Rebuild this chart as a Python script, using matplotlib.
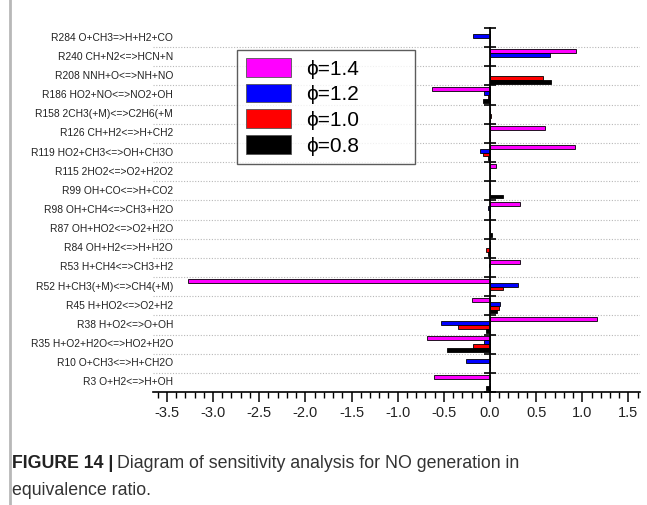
import numpy as np
import matplotlib.pyplot as plt
from matplotlib.lines import Line2D

plt.rcParams['font.family'] = ['Liberation Sans', 'DejaVu Sans']

reactions = [
    "R284 O+CH3=>H+H2+CO",
    "R240 CH+N2<=>HCN+N",
    "R208 NNH+O<=>NH+NO",
    "R186 HO2+NO<=>NO2+OH",
    "R158 2CH3(+M)<=>C2H6(+M",
    "R126 CH+H2<=>H+CH2",
    "R119 HO2+CH3<=>OH+CH3O",
    "R115 2HO2<=>O2+H2O2",
    "R99 OH+CO<=>H+CO2",
    "R98 OH+CH4<=>CH3+H2O",
    "R87 OH+HO2<=>O2+H2O",
    "R84 OH+H2<=>H+H2O",
    "R53 H+CH4<=>CH3+H2",
    "R52 H+CH3(+M)<=>CH4(+M)",
    "R45 H+HO2<=>O2+H2",
    "R38 H+O2<=>O+OH",
    "R35 H+O2+H2O<=>HO2+H2O",
    "R10 O+CH3<=>H+CH2O",
    "R3 O+H2<=>H+OH",
]

# sensitivity coefficients, same order as reactions
phi_14 = [0.0, 0.93, 0.0, -0.63, 0.0, 0.60, 0.92, 0.07, 0.0, 0.32,
          0.0, 0.0, 0.32, -3.27, -0.19, 1.16, -0.68, 0.0, -0.61]
phi_12 = [-0.18, 0.65, 0.0, -0.07, 0.0, 0.0, -0.11, 0.0, 0.0, -0.02,
          0.0, 0.0, -0.01, 0.30, 0.11, -0.53, -0.06, -0.26, 0.0]
phi_10 = [0.0, 0.0, 0.57, -0.02, 0.01, 0.0, -0.08, 0.0, 0.0, 0.0,
          0.0, -0.04, 0.0, 0.14, 0.10, -0.35, -0.18, 0.0, 0.0]
phi_08 = [0.0, 0.0, 0.66, -0.08, 0.0, 0.0, -0.02, 0.0, 0.14, 0.0,
          0.02, -0.02, 0.0, 0.0, 0.08, -0.04, -0.47, 0.0, -0.04]

series = [phi_14, phi_12, phi_10, phi_08]
labels = ["\u03d5=1.4", "\u03d5=1.2", "\u03d5=1.0", "\u03d5=0.8"]
colors = ["#ff00ff", "#0000ff", "#ff0000", "#000000"]

fig = plt.figure(figsize=(6.47, 5.05), dpi=100)
ax = fig.add_axes([0.2365, 0.2238, 0.752, 0.7208])

n = len(reactions)
y = np.arange(n)
h = 0.2
offsets = [-1.5 * h, -0.5 * h, 0.5 * h, 1.5 * h]
for vals, lab, col, off in zip(series, labels, colors, offsets):
    ax.barh(y + off, vals, height=h, color=col, edgecolor="black",
            linewidth=0.6, label=lab, zorder=3)

ax.set_xlim(-3.65, 1.62)
ax.set_ylim(n - 0.5, -0.5)

# dotted separators between reactions
bounds = np.arange(n - 1) + 0.5
ax.hlines(bounds, -3.65, 1.62, colors="#b8b8b8", linestyles=(0, (1, 1.5)),
          linewidth=0.8, zorder=1)

# spines
ax.spines['top'].set_visible(False)
ax.spines['right'].set_visible(False)
ax.spines['left'].set_position(('data', 0))
ax.spines['left'].set_linewidth(1.3)
ax.spines['left'].set_zorder(4)
ax.spines['bottom'].set_linewidth(1.2)

ax.set_yticks(np.arange(n + 1) - 0.5)
ax.set_yticklabels([])
ax.tick_params(axis='y', direction='inout', length=8, width=1.2)

ax.set_xticks(np.arange(-3.5, 1.51, 0.5))
ax.set_xticks(np.arange(-3.6, 1.61, 0.1), minor=True)
ax.set_xticklabels([f"{v:.1f}" for v in np.arange(-3.5, 1.51, 0.5)])
ax.tick_params(axis='x', which='major', direction='out', length=7,
               width=1.1, labelsize=10.5, pad=3, colors="black")
ax.tick_params(axis='x', which='minor', direction='out', length=4, width=1)
for t in ax.get_xticklabels():
    t.set_color("#222222")

for yi, name in zip(y, reactions):
    ax.text(0.041, yi, name, transform=ax.get_yaxis_transform(),
            ha="right", va="center", fontsize=7.4, color="#222222")

leg = ax.legend(loc="upper left", bbox_to_anchor=(0.173, 0.6, 0.366, 0.34),
                mode="expand", fontsize=15, frameon=True, fancybox=False,
                handlelength=2.2, handleheight=1.0, handletextpad=0.7,
                labelspacing=0.25, borderpad=0.4, borderaxespad=0)
leg.get_frame().set_edgecolor("#333333")
leg.get_frame().set_linewidth(1.0)
for p in leg.get_patches():
    p.set_edgecolor("#555555")

# page border on the left
fig.add_artist(Line2D([10 / 647, 10 / 647], [0, 1], color="#b8b8b8",
                      linewidth=2, transform=fig.transFigure))

# caption
renderer = fig.canvas.get_renderer()
t1 = fig.text(12 / 647, 0.083, "FIGURE 14 |", fontsize=12.8,
              fontweight="bold", va="center", ha="left", color="#222222")
bb = t1.get_window_extent(renderer)
fig.text((bb.x1 + 4) / fig.bbox.width, 0.083,
         "Diagram of sensitivity analysis for NO generation in",
         fontsize=12.8, va="center", ha="left", color="#333333")
fig.text(12 / 647, 0.0297, "equivalence ratio.", fontsize=12.8,
         va="center", ha="left", color="#333333")

fig.savefig("out.png", dpi=100)
